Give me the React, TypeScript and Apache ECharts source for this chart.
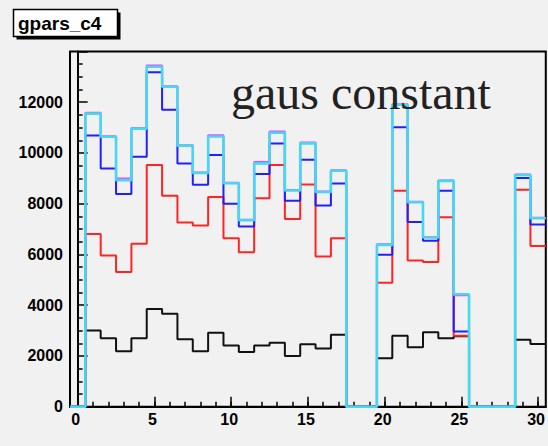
import React, { useEffect, useRef } from "react";
import * as echarts from "echarts";

const bins: number[] = Array.from({ length: 31 }, (_, i) => i);
const blackVals = [0, 3000, 2700, 2190, 2700, 3850, 3660, 2660, 2190, 2910, 2410, 2160, 2410, 2520, 2000, 2460, 2290, 2840, 0, 0, 1910, 2800, 2340, 2930, 2700, 2780, 0, 0, 0, 2640, 2470];
const redVals = [0, 6810, 5960, 5310, 6420, 9530, 8310, 7260, 7140, 8270, 6640, 6090, 8220, 9530, 7400, 8760, 5920, 6640, 0, 0, 4890, 8510, 5760, 5700, 7470, 2800, 0, 0, 0, 8550, 6330];
const blueVals = [0, 10690, 9390, 8380, 9850, 13180, 11700, 9590, 8750, 9920, 8000, 7100, 9170, 10370, 8120, 9730, 7930, 8800, 0, 0, 5990, 11010, 7280, 6540, 8510, 2960, 0, 0, 0, 9010, 7180];
const magentaVals = [0, 11590, 10660, 8990, 10980, 13450, 12630, 10300, 9230, 10700, 8830, 7370, 9640, 10850, 8540, 10410, 8480, 9320, 0, 0, 6400, 11920, 8080, 6690, 8920, 4390, 0, 0, 0, 9150, 7450];
const cyanVals = [0, 11550, 10640, 8930, 10960, 13400, 12610, 10290, 9210, 10650, 8810, 7350, 9590, 10800, 8520, 10380, 8460, 9300, 0, 0, 6380, 11900, 8060, 6670, 8900, 4430, 0, 0, 0, 9130, 7430];
const xMajorTicks = [0, 5, 10, 15, 20, 25, 30];
const xMinorTicks = bins;
const titleText = "gpars_c4";
const labelText = "gaus constant";

function stepData(vals: number[]) {
  const pts: number[][] = vals.map((v, i) => [bins[i] - 0.5, v]);
  pts.push([bins[bins.length - 1] + 0.5, vals[vals.length - 1]]);
  return pts;
}

function mk(name: string, vals: number[], color: string, width: number) {
  return {
    name,
    type: "line",
    step: "end",
    data: stepData(vals),
    symbol: "none",
    lineStyle: { color, width },
    itemStyle: { color },
  };
}

export default function App() {
  const ref = useRef<HTMLDivElement>(null);
  useEffect(() => {
    if (!ref.current) return;
    const chart = echarts.init(ref.current, null, { renderer: "svg" });
    const labelFont = { fontFamily: "Liberation Sans", fontWeight: "bold", fontSize: 16, color: "#000" };
    chart.setOption({
      animation: false,
      backgroundColor: "#f1f1f1",
      grid: {
        left: 70,
        right: 0,
        top: 51.5,
        bottom: 39.3,
        show: true,
        borderColor: "#000",
        borderWidth: 2,
        backgroundColor: "#f1f1f1",
      },
      xAxis: [
        {
          type: "value",
          min: -0.5,
          max: 30.5,
          axisLine: { show: true, onZero: false, lineStyle: { color: "#000", width: 2 } },
          axisTick: { show: true, inside: true, length: 10, customValues: xMajorTicks, lineStyle: { color: "#000", width: 1.5 } },
          axisLabel: { ...labelFont, margin: 5, customValues: xMajorTicks, padding: [0, 4, 0, 0], formatter: (v: number) => String(v) },
          splitLine: { show: false },
        },
        {
          type: "value",
          min: -0.5,
          max: 30.5,
          position: "bottom",
          axisLine: { show: false },
          axisTick: { show: true, inside: true, length: 5, customValues: xMinorTicks, lineStyle: { color: "#000", width: 1.5 } },
          axisLabel: { show: false },
          splitLine: { show: false },
        },
      ],
      yAxis: {
        type: "value",
        min: 0,
        max: 14000,
        interval: 2000,
        axisLine: { show: true, lineStyle: { color: "#000", width: 2 } },
        axisTick: { show: true, inside: true, length: 10, lineStyle: { color: "#000", width: 1.5 } },
        minorTick: { show: true, splitNumber: 4, length: 5, lineStyle: { color: "#000", width: 1.5 } },
        axisLabel: { ...labelFont, margin: 7, showMaxLabel: false, formatter: (v: number) => String(v) },
        splitLine: { show: false },
        minorSplitLine: { show: false },
      },
      series: [
        mk("black", blackVals, "#111111", 2),
        mk("red", redVals, "#ff2424", 2),
        mk("blue", blueVals, "#2020ff", 2),
        mk("magenta", magentaVals, "#ff3cff", 2),
        mk("cyan", cyanVals, "#45d8f0", 2.6),
      ],
      graphic: [
        { type: "rect", shape: { x: 16.5, y: 12.5, width: 104, height: 27 }, style: { fill: "#000" }, z: 10 },
        { type: "rect", shape: { x: 13.5, y: 9.5, width: 104, height: 27 }, style: { fill: "#fff", stroke: "#000", lineWidth: 1.5 }, z: 11 },
        {
          type: "text",
          x: 18,
          y: 23,
          z: 12,
          style: { text: titleText, fontFamily: "Liberation Sans", fontWeight: "bold", fontSize: 19, fill: "#000", verticalAlign: "middle" },
        },
        {
          type: "text",
          x: 231,
          y: 92,
          z: 12,
          style: { text: labelText, fontFamily: "Liberation Serif", fontSize: 48, fill: "#222", verticalAlign: "middle" },
        },
      ],
    });
    return () => chart.dispose();
  }, []);
  return <div ref={ref} style={{ position: "fixed", left: 0, top: 0, width: 548, height: 446 }} />;
}
